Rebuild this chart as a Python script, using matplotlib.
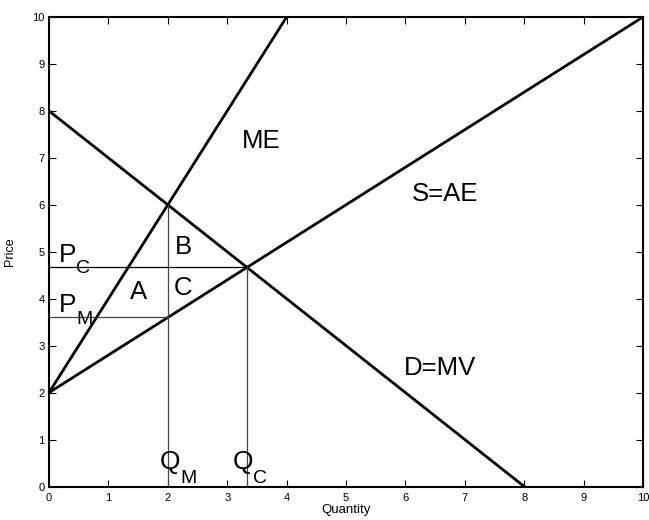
import matplotlib
matplotlib.use("Agg")
import matplotlib.pyplot as plt

plt.rcParams['font.family'] = ['Liberation Sans', 'DejaVu Sans']

# curves as (start, end) points
me_q = [0, 4]
me_p = [2, 10]
ae_q = [0, 10]
ae_p = [2, 10]
mv_q = [0, 8]
mv_p = [8, 0]

# equilibrium values
q_c, p_c = 10 / 3, 14 / 3
q_m, p_m, p_me = 2, 3.6, 6

labels = ["ME", "S=AE", "D=MV", "A", "B", "C"]
label_xy = [(3.57, 7.36), (6.66, 6.23), (6.59, 2.53), (1.50, 4.14), (2.26, 5.10), (2.26, 4.23)]

# letter + subscript labels (main letter pos, subscript pos)
sub_labels = [("P", "C"), ("P", "M"), ("Q", "M"), ("Q", "C")]
main_xy = [(0.17, 4.78), (0.17, 3.72), (1.86, 0.37), (3.09, 0.37)]
sub_xy = [(0.46, 4.55), (0.46, 3.46), (2.22, 0.08), (3.43, 0.08)]

fig = plt.figure(figsize=(6.49, 5.2), dpi=100)
ax = fig.add_axes([0.0755, 0.0644, 0.9153, 0.9029])

ax.plot(me_q, me_p, color='k', lw=2)
ax.plot(ae_q, ae_p, color='k', lw=2)
ax.plot(mv_q, mv_p, color='k', lw=2)

# guide lines
ax.plot([0, q_c], [p_c, p_c], color='k', lw=0.9)
ax.plot([q_c, q_c], [0, p_c], color='#444444', lw=0.9)
ax.plot([0, q_m], [p_m, p_m], color='#444444', lw=0.9)
ax.plot([q_m, q_m], [0, p_me], color='#444444', lw=0.9)

for s, (x, y) in zip(labels, label_xy):
    ax.text(x, y, s, fontsize=18.5, ha='center', va='center')

for (main, sub), (x, y), (sx, sy) in zip(sub_labels, main_xy, sub_xy):
    ax.text(x, y, main, fontsize=19, ha='left', va='baseline')
    ax.text(sx, sy, sub, fontsize=14, ha='left', va='baseline')

ax.set_xlim(0, 10)
ax.set_ylim(0, 10)
ax.set_xticks(range(11))
ax.set_yticks(range(11))
ax.tick_params(direction='in', top=True, right=True, labelsize=8, length=5)
ax.tick_params(axis='x', pad=4.5)
ax.tick_params(axis='y', pad=3)
for sp in ax.spines.values():
    sp.set_linewidth(1.5)
ax.set_xlabel('Quantity', fontsize=9.5, labelpad=1)
ax.set_ylabel('Price', fontsize=9, labelpad=12)

fig.savefig('out.png', dpi=100)
